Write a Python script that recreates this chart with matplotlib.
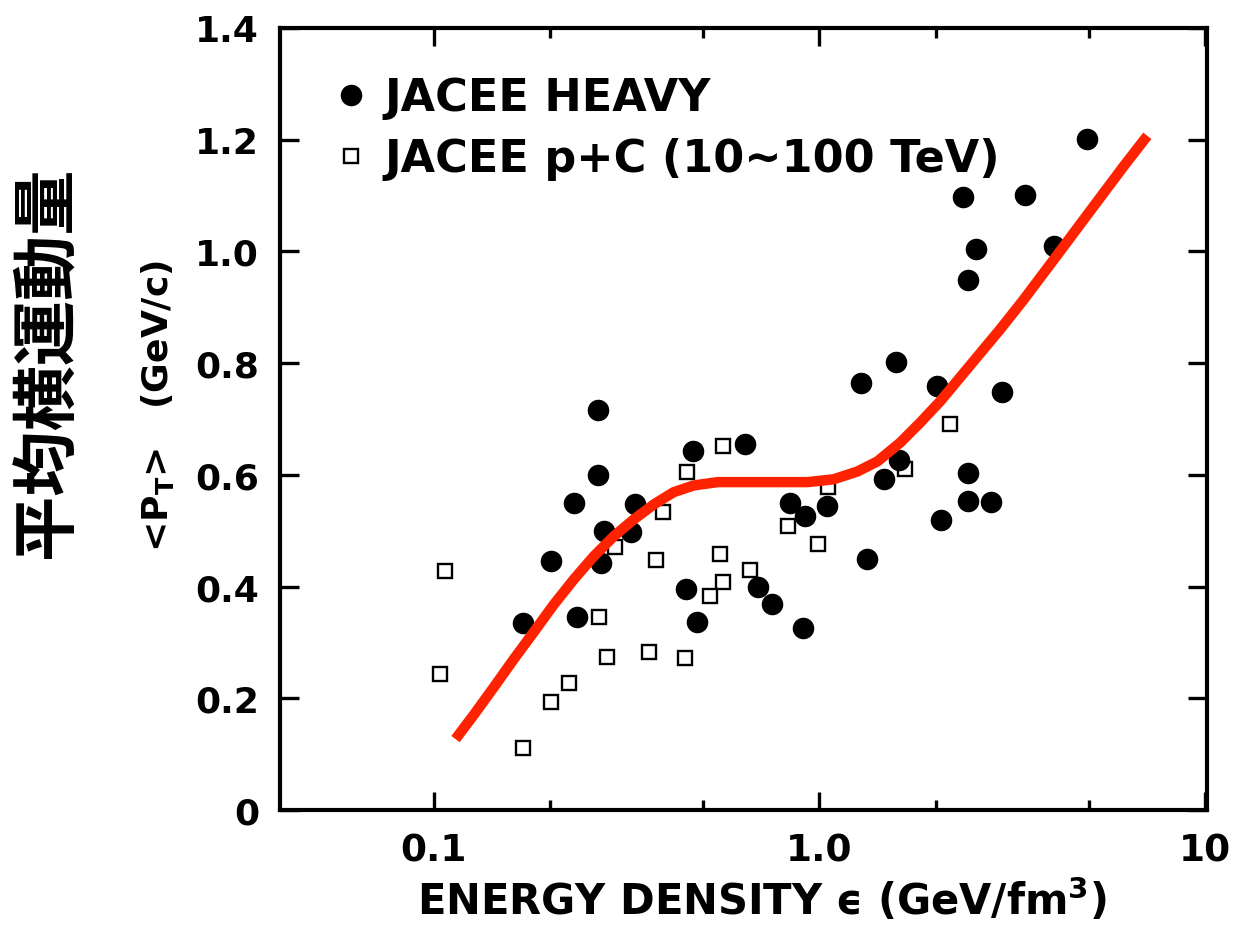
import matplotlib
matplotlib.use("Agg")
import matplotlib.pyplot as plt
from matplotlib.ticker import FixedLocator, NullFormatter

plt.rcParams['font.family'] = ['DejaVu Sans', 'Noto Sans CJK JP']
plt.rcParams['font.weight'] = 'bold'
plt.rcParams['mathtext.fontset'] = 'dejavusans'

# JACEE heavy-nucleus events: energy density (GeV/fm^3) vs <pT> (GeV/c)
heavy_e = [0.171, 0.201, 0.231, 0.236, 0.266, 0.266, 0.276, 0.271, 0.332, 0.324,
           0.469, 0.643, 0.450, 0.483, 0.691, 0.755, 0.904, 0.841, 0.920, 1.049,
           4.95, 2.36, 3.40, 2.54, 2.42, 4.06, 1.58, 1.28, 2.02, 2.98,
           1.47, 1.61, 2.42, 2.43, 2.79, 2.07, 1.33]
heavy_pt = [0.335, 0.445, 0.549, 0.346, 0.717, 0.599, 0.499, 0.443, 0.547, 0.497,
            0.642, 0.655, 0.396, 0.337, 0.400, 0.368, 0.326, 0.549, 0.526, 0.545,
            1.202, 1.098, 1.101, 1.004, 0.949, 1.010, 0.802, 0.764, 0.759, 0.748,
            0.592, 0.626, 0.604, 0.554, 0.551, 0.520, 0.450]

# JACEE p+C events (10~100 TeV)
pc_e = [0.107, 0.104, 0.171, 0.201, 0.225, 0.268, 0.296, 0.282, 0.361, 0.376,
        0.394, 0.447, 0.455, 0.564, 0.554, 0.564, 0.519, 0.662, 0.831, 0.994,
        1.055, 1.67, 2.18]
pc_pt = [0.427, 0.244, 0.111, 0.194, 0.228, 0.346, 0.470, 0.274, 0.283, 0.447,
         0.533, 0.273, 0.606, 0.651, 0.459, 0.409, 0.384, 0.430, 0.508, 0.477,
         0.579, 0.610, 0.691]

# hand-drawn trend curve
trend_e = [0.114, 0.127, 0.143, 0.161, 0.182, 0.205, 0.231, 0.260, 0.293, 0.330,
           0.372, 0.419, 0.472, 0.545, 0.624, 0.760, 0.931, 1.087, 1.254, 1.413,
           1.621, 1.827, 2.057, 2.318, 2.612, 2.943, 3.376, 4.137, 5.036, 6.135, 7.074]
trend_pt = [0.127, 0.170, 0.219, 0.269, 0.319, 0.368, 0.413, 0.454, 0.490, 0.520,
            0.547, 0.569, 0.581, 0.587, 0.587, 0.587, 0.587, 0.592, 0.606, 0.624,
            0.658, 0.694, 0.732, 0.775, 0.818, 0.861, 0.913, 0.994, 1.073, 1.152, 1.207]

y_ticks = [0, 0.2, 0.4, 0.6, 0.8, 1.0, 1.2, 1.4]
y_labels = ['0', '0.2', '0.4', '0.6', '0.8', '1.0', '1.2', '1.4']
x_ticks = [0.1, 1.0, 10]
x_labels = ['0.1', '1.0', '10']
x_minor = [0.2, 0.5, 2, 5]

W, H = 1236, 929
fig = plt.figure(figsize=(W / 100, H / 100), dpi=100)
ax = fig.add_axes([280 / W, 1 - 811 / H, (1207 - 280) / W, (811 - 29) / H])

ax.plot(pc_e, pc_pt, 's', mfc='white', mec='black', mew=1.7, ms=10.5,
        label='JACEE p+C (10~100 TeV)', zorder=2)
ax.plot(heavy_e, heavy_pt, 'o', color='black', ms=14.5,
        label='JACEE HEAVY', zorder=3)
ax.plot(trend_e, trend_pt, color='#ff2200', lw=7.5,
        solid_capstyle='butt', solid_joinstyle='round', zorder=4)

ax.set_xscale('log')
ax.set_xlim(0.04, 10.1)
ax.set_ylim(0, 1.4)

ax.xaxis.set_major_locator(FixedLocator(x_ticks))
ax.set_xticklabels(x_labels)
ax.xaxis.set_minor_locator(FixedLocator(x_minor))
ax.xaxis.set_minor_formatter(NullFormatter())
ax.set_yticks(y_ticks)
ax.set_yticklabels(y_labels)

for s in ax.spines.values():
    s.set_linewidth(3)
ax.tick_params(which='both', direction='in', top=True, right=True, width=2.4)
ax.tick_params(axis='y', which='major', length=14, labelsize=26, pad=15)
ax.tick_params(axis='x', which='major', length=13, labelsize=27, pad=16)
ax.tick_params(axis='x', which='minor', length=7.5)

handles, labels = ax.get_legend_handles_labels()
leg = ax.legend(handles[::-1], labels[::-1], loc='upper left',
                bbox_to_anchor=(0.0555, 0.938), frameon=False, fontsize=32,
                handlelength=0.9, handletextpad=0.3, labelspacing=0.4,
                borderpad=0, borderaxespad=0, numpoints=1)

fig.text(762 / W, 1 - 915 / H, r'ENERGY DENSITY ϵ (GeV/fm$^\mathbf{3}$)', fontsize=30,
         ha='center', va='baseline')
fig.text(157 / W, 1 - 406 / H, r'<P$_\mathbf{T}$>   (GeV/c)', fontsize=26,
         rotation=90, ha='center', va='center')
fig.text(47 / W, 1 - 362 / H, '平均横運動量', fontsize=47,
         family=['Noto Sans CJK JP'], weight='bold',
         rotation=90, ha='center', va='center')

fig.savefig('out.png', dpi=100)
